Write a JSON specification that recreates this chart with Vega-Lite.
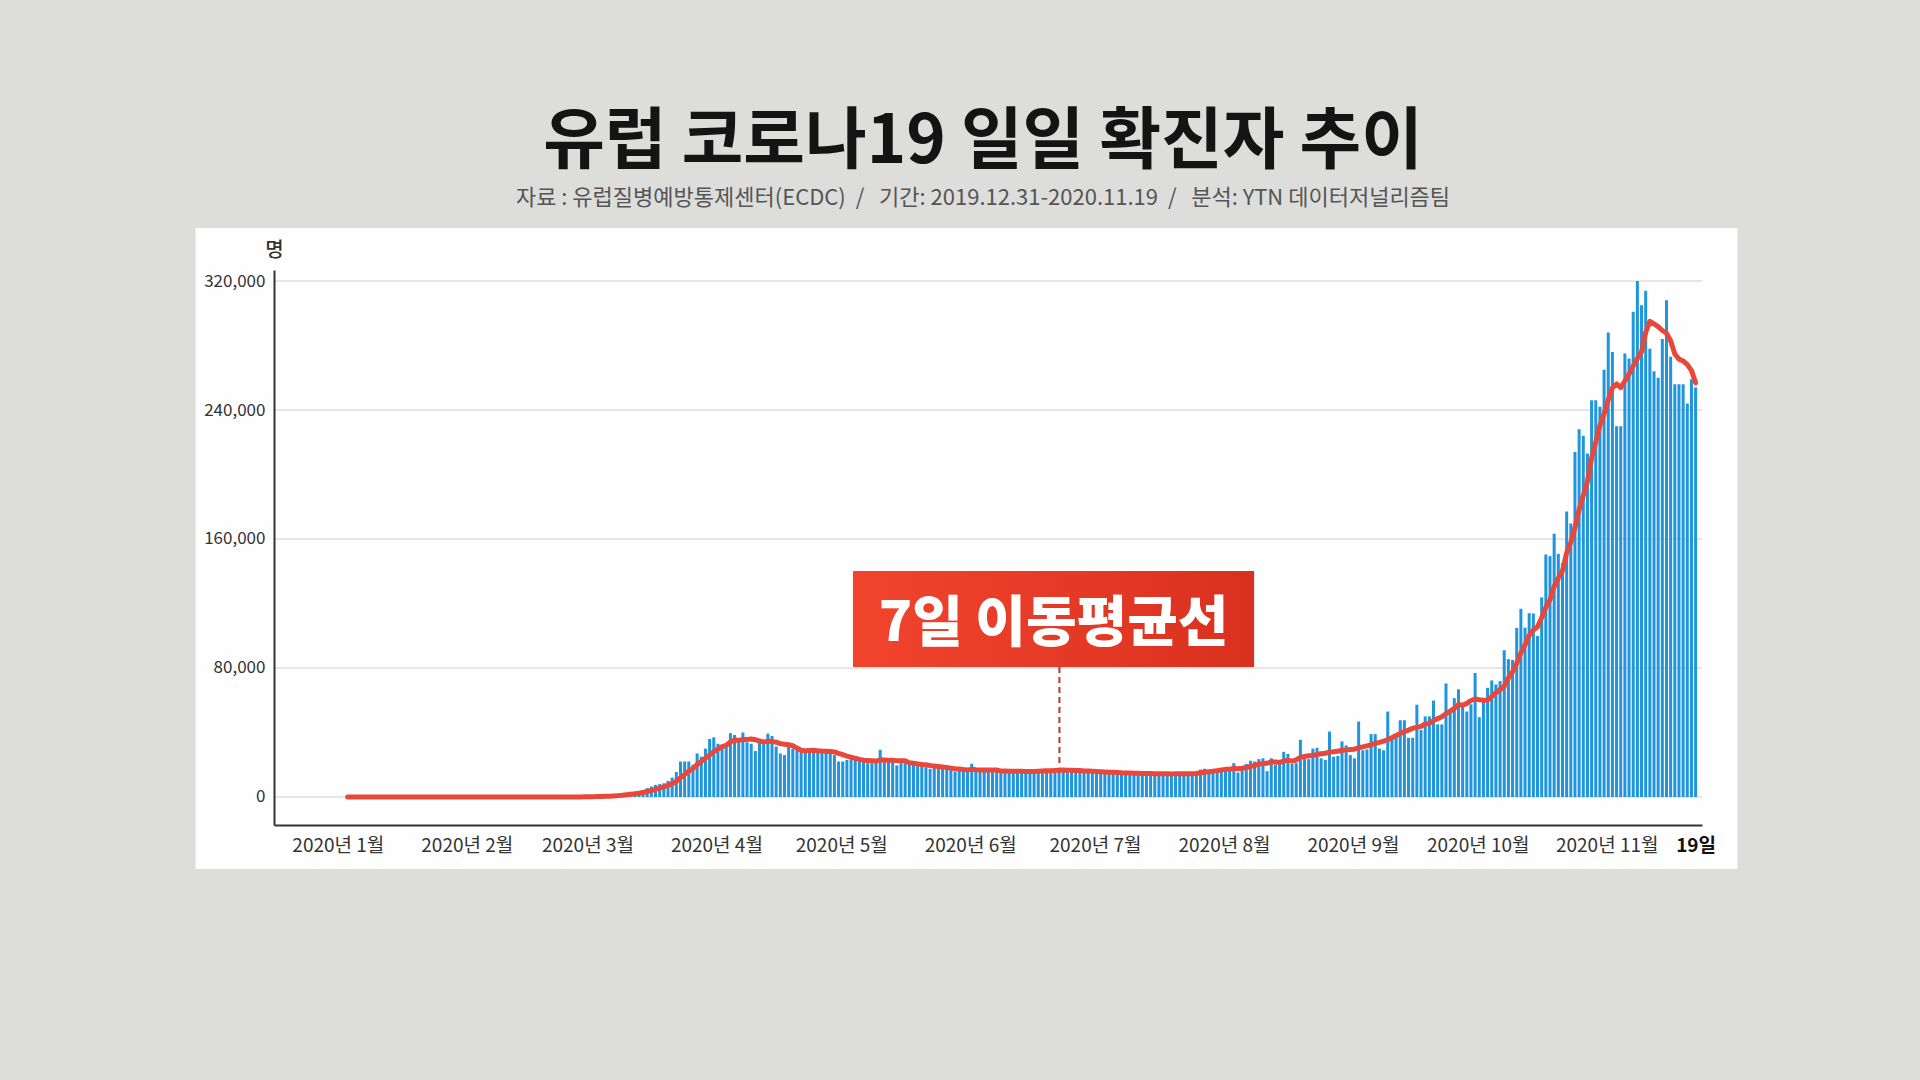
{
  "$schema": "https://vega.github.io/schema/vega-lite/v6.json",
  "width": 1428,
  "height": 555,
  "autosize": {"type": "none"},
  "padding": {"left": 274, "top": 270, "right": 218, "bottom": 255},
  "background": "#dddddb",
  "config": {
    "view": {"stroke": null},
    "font": "Noto Sans CJK KR",
    "axis": {"zindex": 1}
  },
  "title": {
    "text": "유럽 코로나19 일일 확진자 추이",
    "subtitle": "자료 : 유럽질병예방통제센터(ECDC)  \u00a0/\u00a0\u00a0  기간: 2019.12.31-2020.11.19  \u00a0/\u00a0\u00a0  분석: YTN 데이터저널리즘팀",
    "anchor": "middle",
    "frame": "group",
    "font": "Noto Sans CJK KR",
    "fontSize": 67,
    "fontWeight": 700,
    "color": "#141414",
    "subtitleFont": "Noto Sans CJK KR",
    "subtitleFontSize": 22,
    "subtitleColor": "#555555",
    "subtitlePadding": 11,
    "offset": 18,
    "dx": -5
  },
  "datasets": {
    "note": [{"label": "7일 이동평균선"}],
    "grid": [{"cases": 0}, {"cases": 80000}, {"cases": 160000}, {"cases": 240000}, {"cases": 320000}],
    "daily": [
      {"date":"2019-12-31","cases":0},
      {"date":"2020-01-01","cases":0},{"date":"2020-01-02","cases":0},{"date":"2020-01-03","cases":0},{"date":"2020-01-04","cases":0},{"date":"2020-01-05","cases":0},{"date":"2020-01-06","cases":0},{"date":"2020-01-07","cases":0},{"date":"2020-01-08","cases":0},{"date":"2020-01-09","cases":0},{"date":"2020-01-10","cases":0},{"date":"2020-01-11","cases":0},{"date":"2020-01-12","cases":0},{"date":"2020-01-13","cases":0},{"date":"2020-01-14","cases":0},{"date":"2020-01-15","cases":0},{"date":"2020-01-16","cases":0},{"date":"2020-01-17","cases":0},{"date":"2020-01-18","cases":0},{"date":"2020-01-19","cases":0},{"date":"2020-01-20","cases":0},{"date":"2020-01-21","cases":0},{"date":"2020-01-22","cases":0},{"date":"2020-01-23","cases":0},{"date":"2020-01-24","cases":2},{"date":"2020-01-25","cases":1},{"date":"2020-01-26","cases":0},{"date":"2020-01-27","cases":1},{"date":"2020-01-28","cases":4},{"date":"2020-01-29","cases":1},{"date":"2020-01-30","cases":2},{"date":"2020-01-31","cases":3},
      {"date":"2020-02-01","cases":1},{"date":"2020-02-02","cases":2},{"date":"2020-02-03","cases":0},{"date":"2020-02-04","cases":2},{"date":"2020-02-05","cases":1},{"date":"2020-02-06","cases":3},{"date":"2020-02-07","cases":3},{"date":"2020-02-08","cases":1},{"date":"2020-02-09","cases":2},{"date":"2020-02-10","cases":5},{"date":"2020-02-11","cases":1},{"date":"2020-02-12","cases":2},{"date":"2020-02-13","cases":1},{"date":"2020-02-14","cases":3},{"date":"2020-02-15","cases":0},{"date":"2020-02-16","cases":1},{"date":"2020-02-17","cases":0},{"date":"2020-02-18","cases":2},{"date":"2020-02-19","cases":0},{"date":"2020-02-20","cases":1},{"date":"2020-02-21","cases":20},{"date":"2020-02-22","cases":60},{"date":"2020-02-23","cases":90},{"date":"2020-02-24","cases":110},{"date":"2020-02-25","cases":120},{"date":"2020-02-26","cases":170},{"date":"2020-02-27","cases":240},{"date":"2020-02-28","cases":380},{"date":"2020-02-29","cases":540},
      {"date":"2020-03-01","cases":700},{"date":"2020-03-02","cases":900},{"date":"2020-03-03","cases":850},{"date":"2020-03-04","cases":1100},{"date":"2020-03-05","cases":1500},{"date":"2020-03-06","cases":1900},{"date":"2020-03-07","cases":2500},{"date":"2020-03-08","cases":3000},{"date":"2020-03-09","cases":3000},{"date":"2020-03-10","cases":3600},{"date":"2020-03-11","cases":4300},{"date":"2020-03-12","cases":5500},{"date":"2020-03-13","cases":6500},{"date":"2020-03-14","cases":7500},{"date":"2020-03-15","cases":8000},{"date":"2020-03-16","cases":8500},{"date":"2020-03-17","cases":10000},{"date":"2020-03-18","cases":12000},{"date":"2020-03-19","cases":15500},{"date":"2020-03-20","cases":22000},{"date":"2020-03-21","cases":22000},{"date":"2020-03-22","cases":22000},{"date":"2020-03-23","cases":20000},{"date":"2020-03-24","cases":27000},{"date":"2020-03-25","cases":25000},{"date":"2020-03-26","cases":30000},{"date":"2020-03-27","cases":36000},{"date":"2020-03-28","cases":37000},{"date":"2020-03-29","cases":33000},{"date":"2020-03-30","cases":31000},{"date":"2020-03-31","cases":32000},
      {"date":"2020-04-01","cases":39600},{"date":"2020-04-02","cases":38500},{"date":"2020-04-03","cases":35000},{"date":"2020-04-04","cases":40000},{"date":"2020-04-05","cases":34000},{"date":"2020-04-06","cases":33000},{"date":"2020-04-07","cases":28500},{"date":"2020-04-08","cases":33900},{"date":"2020-04-09","cases":34000},{"date":"2020-04-10","cases":39300},{"date":"2020-04-11","cases":37800},{"date":"2020-04-12","cases":31300},{"date":"2020-04-13","cases":27000},{"date":"2020-04-14","cases":26000},{"date":"2020-04-15","cases":31300},{"date":"2020-04-16","cases":30000},{"date":"2020-04-17","cases":29000},{"date":"2020-04-18","cases":28500},{"date":"2020-04-19","cases":28500},{"date":"2020-04-20","cases":28500},{"date":"2020-04-21","cases":27500},{"date":"2020-04-22","cases":29000},{"date":"2020-04-23","cases":28500},{"date":"2020-04-24","cases":28500},{"date":"2020-04-25","cases":27500},{"date":"2020-04-26","cases":26000},{"date":"2020-04-27","cases":22000},{"date":"2020-04-28","cases":22000},{"date":"2020-04-29","cases":23000},{"date":"2020-04-30","cases":24000},
      {"date":"2020-05-01","cases":23500},{"date":"2020-05-02","cases":23000},{"date":"2020-05-03","cases":22000},{"date":"2020-05-04","cases":21000},{"date":"2020-05-05","cases":21000},{"date":"2020-05-06","cases":21500},{"date":"2020-05-07","cases":29300},{"date":"2020-05-08","cases":22500},{"date":"2020-05-09","cases":22000},{"date":"2020-05-10","cases":22000},{"date":"2020-05-11","cases":19600},{"date":"2020-05-12","cases":21000},{"date":"2020-05-13","cases":21000},{"date":"2020-05-14","cases":20500},{"date":"2020-05-15","cases":20000},{"date":"2020-05-16","cases":19600},{"date":"2020-05-17","cases":19600},{"date":"2020-05-18","cases":18500},{"date":"2020-05-19","cases":17400},{"date":"2020-05-20","cases":18500},{"date":"2020-05-21","cases":18500},{"date":"2020-05-22","cases":18000},{"date":"2020-05-23","cases":17400},{"date":"2020-05-24","cases":17000},{"date":"2020-05-25","cases":15800},{"date":"2020-05-26","cases":16200},{"date":"2020-05-27","cases":16200},{"date":"2020-05-28","cases":16800},{"date":"2020-05-29","cases":20600},{"date":"2020-05-30","cases":15800},{"date":"2020-05-31","cases":16000},
      {"date":"2020-06-01","cases":15800},{"date":"2020-06-02","cases":16000},{"date":"2020-06-03","cases":16300},{"date":"2020-06-04","cases":16500},{"date":"2020-06-05","cases":16200},{"date":"2020-06-06","cases":15800},{"date":"2020-06-07","cases":15600},{"date":"2020-06-08","cases":15500},{"date":"2020-06-09","cases":15800},{"date":"2020-06-10","cases":16000},{"date":"2020-06-11","cases":16200},{"date":"2020-06-12","cases":15500},{"date":"2020-06-13","cases":15800},{"date":"2020-06-14","cases":16500},{"date":"2020-06-15","cases":16800},{"date":"2020-06-16","cases":17000},{"date":"2020-06-17","cases":16500},{"date":"2020-06-18","cases":16800},{"date":"2020-06-19","cases":16500},{"date":"2020-06-20","cases":16800},{"date":"2020-06-21","cases":16200},{"date":"2020-06-22","cases":16000},{"date":"2020-06-23","cases":16500},{"date":"2020-06-24","cases":15800},{"date":"2020-06-25","cases":15500},{"date":"2020-06-26","cases":15800},{"date":"2020-06-27","cases":15600},{"date":"2020-06-28","cases":15300},{"date":"2020-06-29","cases":15000},{"date":"2020-06-30","cases":15400},
      {"date":"2020-07-01","cases":15000},{"date":"2020-07-02","cases":15000},{"date":"2020-07-03","cases":14800},{"date":"2020-07-04","cases":14600},{"date":"2020-07-05","cases":14900},{"date":"2020-07-06","cases":14500},{"date":"2020-07-07","cases":14400},{"date":"2020-07-08","cases":14600},{"date":"2020-07-09","cases":14400},{"date":"2020-07-10","cases":14300},{"date":"2020-07-11","cases":14500},{"date":"2020-07-12","cases":14300},{"date":"2020-07-13","cases":14200},{"date":"2020-07-14","cases":14400},{"date":"2020-07-15","cases":14300},{"date":"2020-07-16","cases":14300},{"date":"2020-07-17","cases":14400},{"date":"2020-07-18","cases":14600},{"date":"2020-07-19","cases":14400},{"date":"2020-07-20","cases":14600},{"date":"2020-07-21","cases":14800},{"date":"2020-07-22","cases":15200},{"date":"2020-07-23","cases":17000},{"date":"2020-07-24","cases":17500},{"date":"2020-07-25","cases":16500},{"date":"2020-07-26","cases":16500},{"date":"2020-07-27","cases":17000},{"date":"2020-07-28","cases":17500},{"date":"2020-07-29","cases":18000},{"date":"2020-07-30","cases":17800},{"date":"2020-07-31","cases":21000},
      {"date":"2020-08-01","cases":15200},{"date":"2020-08-02","cases":18000},{"date":"2020-08-03","cases":20500},{"date":"2020-08-04","cases":22500},{"date":"2020-08-05","cases":22000},{"date":"2020-08-06","cases":23500},{"date":"2020-08-07","cases":24000},{"date":"2020-08-08","cases":16000},{"date":"2020-08-09","cases":24000},{"date":"2020-08-10","cases":20000},{"date":"2020-08-11","cases":20500},{"date":"2020-08-12","cases":28000},{"date":"2020-08-13","cases":26700},{"date":"2020-08-14","cases":20500},{"date":"2020-08-15","cases":21000},{"date":"2020-08-16","cases":35500},{"date":"2020-08-17","cases":23500},{"date":"2020-08-18","cases":23500},{"date":"2020-08-19","cases":30000},{"date":"2020-08-20","cases":30500},{"date":"2020-08-21","cases":24000},{"date":"2020-08-22","cases":23000},{"date":"2020-08-23","cases":40600},{"date":"2020-08-24","cases":25000},{"date":"2020-08-25","cases":25500},{"date":"2020-08-26","cases":34500},{"date":"2020-08-27","cases":32000},{"date":"2020-08-28","cases":26000},{"date":"2020-08-29","cases":24000},{"date":"2020-08-30","cases":46800},{"date":"2020-08-31","cases":29000},
      {"date":"2020-09-01","cases":29500},{"date":"2020-09-02","cases":39000},{"date":"2020-09-03","cases":39000},{"date":"2020-09-04","cases":30000},{"date":"2020-09-05","cases":29000},{"date":"2020-09-06","cases":53000},{"date":"2020-09-07","cases":37600},{"date":"2020-09-08","cases":39000},{"date":"2020-09-09","cases":47600},{"date":"2020-09-10","cases":47600},{"date":"2020-09-11","cases":36700},{"date":"2020-09-12","cases":36700},{"date":"2020-09-13","cases":57200},{"date":"2020-09-14","cases":41500},{"date":"2020-09-15","cases":50000},{"date":"2020-09-16","cases":50000},{"date":"2020-09-17","cases":59800},{"date":"2020-09-18","cases":45000},{"date":"2020-09-19","cases":45000},{"date":"2020-09-20","cases":70400},{"date":"2020-09-21","cases":53000},{"date":"2020-09-22","cases":61300},{"date":"2020-09-23","cases":66800},{"date":"2020-09-24","cases":57000},{"date":"2020-09-25","cases":53000},{"date":"2020-09-26","cases":57500},{"date":"2020-09-27","cases":76900},{"date":"2020-09-28","cases":49500},{"date":"2020-09-29","cases":58900},{"date":"2020-09-30","cases":67700},
      {"date":"2020-10-01","cases":72300},{"date":"2020-10-02","cases":69800},{"date":"2020-10-03","cases":71900},{"date":"2020-10-04","cases":91000},{"date":"2020-10-05","cases":85500},{"date":"2020-10-06","cases":85000},{"date":"2020-10-07","cases":104900},{"date":"2020-10-08","cases":116700},{"date":"2020-10-09","cases":105000},{"date":"2020-10-10","cases":114000},{"date":"2020-10-11","cases":113800},{"date":"2020-10-12","cases":99800},{"date":"2020-10-13","cases":123800},{"date":"2020-10-14","cases":150400},{"date":"2020-10-15","cases":149400},{"date":"2020-10-16","cases":163200},{"date":"2020-10-17","cases":150800},{"date":"2020-10-18","cases":145000},{"date":"2020-10-19","cases":177000},{"date":"2020-10-20","cases":169600},{"date":"2020-10-21","cases":214000},{"date":"2020-10-22","cases":228000},{"date":"2020-10-23","cases":224000},{"date":"2020-10-24","cases":213000},{"date":"2020-10-25","cases":246000},{"date":"2020-10-26","cases":246000},{"date":"2020-10-27","cases":242000},{"date":"2020-10-28","cases":265000},{"date":"2020-10-29","cases":288000},{"date":"2020-10-30","cases":276000},{"date":"2020-10-31","cases":230000},
      {"date":"2020-11-01","cases":230000},{"date":"2020-11-02","cases":275000},{"date":"2020-11-03","cases":272000},{"date":"2020-11-04","cases":301000},{"date":"2020-11-05","cases":320000},{"date":"2020-11-06","cases":305000},{"date":"2020-11-07","cases":314000},{"date":"2020-11-08","cases":278000},{"date":"2020-11-09","cases":264000},{"date":"2020-11-10","cases":260000},{"date":"2020-11-11","cases":284000},{"date":"2020-11-12","cases":308000},{"date":"2020-11-13","cases":273000},{"date":"2020-11-14","cases":256000},{"date":"2020-11-15","cases":256000},{"date":"2020-11-16","cases":256000},{"date":"2020-11-17","cases":244000},{"date":"2020-11-18","cases":259000},{"date":"2020-11-19","cases":254000}
    ]
  },
  "layer": [
    {
      "data": {"name": "note"},
      "mark": {"type": "rect", "color": "#fefefe"},
      "encoding": {
        "x": {"datum": {"year": 2019, "month": 11, "date": 24, "hours": 11, "utc": true}, "type": "temporal",
              "scale": {"type": "utc", "nice": false, "domain": [{"year": 2019, "month": 12, "date": 14, "hours": 12, "utc": true}, {"year": 2020, "month": 11, "date": 19, "hours": 8, "utc": true}]}},
        "x2": {"datum": {"year": 2020, "month": 11, "date": 29, "hours": 2, "utc": true}},
        "y": {"datum": 352870, "type": "quantitative", "scale": {"domain": [-17365, 326822], "nice": false, "zero": false}},
        "y2": {"datum": -44654}
      }
    },
    {
      "data": {"name": "grid"},
      "mark": {"type": "rule", "color": "#e6e6e6", "strokeWidth": 2},
      "encoding": {
        "y": {"field": "cases", "type": "quantitative", "scale": {"domain": [-17365, 326822], "nice": false, "zero": false}}
      }
    },
    {
      "data": {"name": "daily"},
      "mark": {"type": "bar", "color": "#1f95de", "width": 3},
      "encoding": {
        "x": {"field": "date", "type": "temporal",
              "scale": {"type": "utc", "nice": false, "domain": [{"year": 2019, "month": 12, "date": 14, "hours": 12, "utc": true}, {"year": 2020, "month": 11, "date": 19, "hours": 8, "utc": true}]},
              "axis": {
                "title": null,
                "values": [
                  {"year": 2020, "month": 1, "date": 1, "utc": true},
                  {"year": 2020, "month": 2, "date": 1, "utc": true},
                  {"year": 2020, "month": 3, "date": 1, "utc": true},
                  {"year": 2020, "month": 4, "date": 1, "utc": true},
                  {"year": 2020, "month": 5, "date": 1, "utc": true},
                  {"year": 2020, "month": 6, "date": 1, "utc": true},
                  {"year": 2020, "month": 7, "date": 1, "utc": true},
                  {"year": 2020, "month": 8, "date": 1, "utc": true},
                  {"year": 2020, "month": 9, "date": 1, "utc": true},
                  {"year": 2020, "month": 10, "date": 1, "utc": true},
                  {"year": 2020, "month": 11, "date": 1, "utc": true},
                  {"year": 2020, "month": 11, "date": 19, "utc": true}
                ],
                "labelExpr": "utcdate(datum.value) == 19 ? '19일' : '2020년 ' + (utcmonth(datum.value) + 1) + '월'",
                "ticks": false,
                "grid": false,
                "domainColor": "#333333",
                "domainWidth": 2,
                "labelFont": "Noto Sans CJK KR",
                "labelFontSize": 19,
                "labelColor": {"condition": {"test": "utcdate(datum.value) == 19", "value": "#111111"}, "value": "#333333"},
                "labelFontWeight": {"condition": {"test": "utcdate(datum.value) == 19", "value": "bold"}, "value": "normal"},
                "labelOffset": {"condition": {"test": "utcdate(datum.value) == 19", "value": 0}, "value": -14},
                "labelPadding": 11,
                "labelOverlap": false,
                "labelFlush": false,
                "zindex": 1
              }},
        "y": {"field": "cases", "type": "quantitative",
              "scale": {"domain": [-17365, 326822], "nice": false, "zero": false},
              "axis": {
                "title": "명",
                "titleAngle": 0,
                "titleX": 0,
                "titleY": -20,
                "titleAlign": "center",
                "titleBaseline": "middle",
                "titleFont": "Noto Sans CJK KR",
                "titleFontSize": 20,
                "titleFontWeight": 500,
                "titleColor": "#333333",
                "values": [0, 80000, 160000, 240000, 320000],
                "format": ",d",
                "ticks": false,
                "grid": false,
                "domainColor": "#333333",
                "domainWidth": 2,
                "labelFont": "Noto Sans CJK KR",
                "labelFontSize": 17,
                "labelColor": "#333333",
                "labelPadding": 9,
                "zindex": 1
              }}
      }
    },
    {
      "data": {"name": "daily"},
      "transform": [
        {"window": [{"op": "mean", "field": "cases", "as": "ma7"}], "frame": [-6, 0], "sort": [{"field": "date", "order": "ascending"}]}
      ],
      "mark": {"type": "line", "color": "#e8483b", "strokeWidth": 5, "strokeCap": "round", "strokeJoin": "round"},
      "encoding": {
        "x": {"field": "date", "type": "temporal"},
        "y": {"field": "ma7", "type": "quantitative"}
      }
    },
    {
      "data": {"name": "note"},
      "mark": {"type": "rule", "color": "#b5372b", "strokeWidth": 2, "strokeDash": [6, 4]},
      "encoding": {
        "x": {"datum": {"year": 2020, "month": 6, "date": 19, "hours": 2, "utc": true}, "type": "temporal"},
        "y": {"datum": 80626, "type": "quantitative"},
        "y2": {"datum": 18500}
      }
    },
    {
      "data": {"name": "note"},
      "mark": {"type": "rect", "fill": {"gradient": "linear", "x1": 0, "x2": 1, "y1": 0, "y2": 0, "stops": [{"offset": 0, "color": "#f2442d"}, {"offset": 1, "color": "#d9311f"}]}},
      "encoding": {
        "x": {"datum": {"year": 2020, "month": 4, "date": 30, "hours": 11, "utc": true}, "type": "temporal"},
        "x2": {"datum": {"year": 2020, "month": 8, "date": 4, "hours": 21, "utc": true}},
        "y": {"datum": 140165, "type": "quantitative"},
        "y2": {"datum": 80626}
      }
    },
    {
      "data": {"name": "note"},
      "mark": {"type": "text", "font": "Noto Sans CJK KR", "fontSize": 55, "fontWeight": 900, "color": "#ffffff", "align": "center", "baseline": "middle"},
      "encoding": {
        "text": {"field": "label"},
        "x": {"datum": {"year": 2020, "month": 6, "date": 17, "hours": 16, "utc": true}, "type": "temporal"},
        "y": {"datum": 107000, "type": "quantitative"}
      }
    }
  ]
}
